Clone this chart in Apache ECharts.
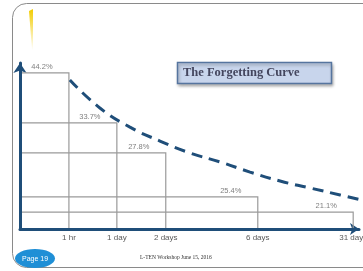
<!DOCTYPE html>
<html>
<head>
<meta charset="utf-8">
<title>The Forgetting Curve</title>
<script src="https://cdn.jsdelivr.net/npm/echarts@6/dist/echarts.min.js"></script>
<style>
  html, body { margin: 0; padding: 0; background: #fff; }
  #main { width: 363px; height: 271px; }
</style>
</head>
<body>
<div id="main"></div>
<script>
// time points (position along the slide's drawn time axis)
var timeNames = ['1 hr', '1 day', '2 days', '6 days', '31 days'];
var timePos = [1.01, 2.0, 3.01, 4.91, 6.88];
// retention labels and the level each step is drawn at (0-100 on the slide axis)
var retention = ['44.2%', '33.7%', '27.8%', '25.4%', '21.1%'];
var drawnLevel = [94, 63.9, 45.8, 19.3, 10.2];
// dashed decay curve
var curveX = [1.03, 1.65, 2.27, 2.89, 3.51, 4.13, 4.75, 5.37, 5.99, 6.61, 7.0];
var curveY = [89.8, 72.9, 61.4, 53, 45.8, 40.4, 34.3, 28.9, 24.7, 20.5, 17.8];

var blue = '#1f4e79';
var chart = echarts.init(document.getElementById('main'));

var steps = timePos.map(function (x, i) { return [x, drawnLevel[i]]; });
var curve = curveX.map(function (x, i) { return [x, curveY[i]]; });

chart.setOption({
  animation: false,
  grid: { left: 20, right: 4, top: 63, bottom: 42, outerBoundsMode: 'none' },
  xAxis: {
    type: 'value', min: 0, max: 7,
    splitLine: { show: false },
    axisTick: { show: false },
    axisLine: {
      symbol: ['none', 'arrow'], symbolSize: [9, 9],
      lineStyle: { color: blue, width: 3 }
    },
    axisLabel: {
      customValues: timePos,
      formatter: function (v) { return timeNames[timePos.indexOf(v)]; },
      color: '#595959', fontSize: 8, fontFamily: 'Liberation Sans', margin: 5,
      hideOverlap: false
    }
  },
  yAxis: {
    type: 'value', min: 0, max: 100,
    splitLine: { show: false },
    axisTick: { show: false },
    axisLabel: { show: false },
    axisLine: {
      symbol: ['none', 'arrow'], symbolSize: [10, 10],
      lineStyle: { color: blue, width: 3 }
    }
  },
  graphic: [
    // slide frame
    { type: 'rect', silent: true, shape: { x: 12.5, y: 3.5, width: 420, height: 264, r: 14 },
      style: { fill: null, stroke: '#8a8a8a', lineWidth: 1 } },
    // yellow sliver
    { type: 'polygon', silent: true,
      shape: { points: [[29, 11], [33, 9], [33, 50], [32, 50]] },
      style: { fill: new echarts.graphic.LinearGradient(0, 0, 0, 1, [
        { offset: 0, color: '#f2cc00' }, { offset: 1, color: '#ffffff' }]) } },
    // title box
    { type: 'rect', silent: true, shape: { x: 177.5, y: 62.5, width: 154, height: 21 },
      style: { fill: '#c8d5ec', stroke: '#56759f', lineWidth: 1.5,
        shadowBlur: 3, shadowOffsetX: 1, shadowOffsetY: 2, shadowColor: 'rgba(0,0,0,0.3)' } },
    { type: 'text', silent: true,
      style: { text: 'The Forgetting Curve', x: 183, y: 73, verticalAlign: 'middle',
        font: 'bold 12.5px "Liberation Serif"', fill: '#44465e' } },
    // page badge
    { type: 'ellipse', silent: true, shape: { cx: 35, cy: 258.5, rx: 20, ry: 9.5 },
      style: { fill: '#1f8fd6' } },
    { type: 'text', silent: true,
      style: { text: 'Page 19', x: 35, y: 259, align: 'center', verticalAlign: 'middle',
        font: '7px "Liberation Sans"', fill: '#ffffff' } },
    // footer
    { type: 'text', silent: true,
      style: { text: 'L-TEN Workshop June 15, 2016', x: 140, y: 258, verticalAlign: 'middle',
        font: '5.5px "Liberation Serif"', fill: '#333333' } }
  ],
  series: [
    {
      type: 'custom',
      data: steps,
      z: 2,
      renderItem: function (params, api) {
        var base = api.coord([0, 0]);
        var top = api.coord([api.value(0), api.value(1)]);
        return {
          type: 'group',
          children: [
            { type: 'polyline',
              shape: { points: [[base[0] + 2, top[1]], [top[0], top[1]], [top[0], base[1] - 1]] },
              style: { stroke: '#9a9a9a', lineWidth: 1.2, fill: null } },
            { type: 'text',
              style: { text: retention[params.dataIndex], x: top[0] - 27, y: top[1] - 2,
                align: 'center', verticalAlign: 'bottom',
                font: '7.5px "Liberation Sans"', fill: '#808080' } }
          ]
        };
      }
    },
    {
      type: 'line',
      data: curve,
      smooth: true,
      showSymbol: false,
      z: 3,
      lineStyle: { color: blue, width: 3, type: [11, 7] }
    }
  ]
});

window.onresize = function () { chart.resize(); };
</script>
</body>
</html>
